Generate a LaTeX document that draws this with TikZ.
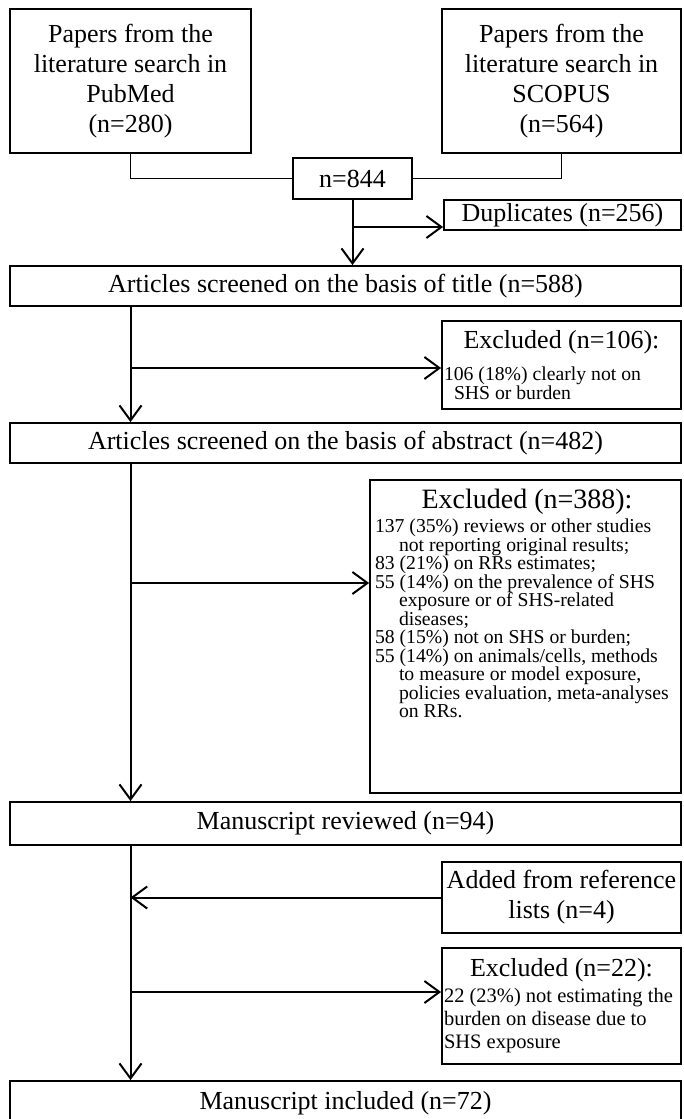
\documentclass[tikz,border=0pt]{standalone}
\usepackage{fontspec}
\setmainfont{Liberation Serif}
\usepackage{tikz}
\usetikzlibrary{arrows.meta}
\setlength{\parindent}{0pt}
\newcommand{\bigsz}{\fontsize{26}{30}\selectfont}
\newcommand{\headsz}{\fontsize{28}{30}\selectfont}
\newcommand{\listsz}{\fontsize{19.7}{18.5}\selectfont}
\newcommand{\notesz}{\fontsize{20.5}{23}\selectfont}
\newcommand{\ind}{\hspace*{24pt}}
\newcommand{\midline}[1]{\makebox[\hsize][c]{#1}}
\tikzstyle{source} = [draw, line width=1.8pt, minimum width=241pt, minimum height=144pt, inner sep=2pt, text width=235pt, align=flush center, font=\bigsz]
\tikzstyle{stage} = [draw, line width=1.8pt, minimum width=671pt, minimum height=40pt, inner sep=2pt, font=\bigsz]
\tikzstyle{side} = [draw, line width=1.8pt, minimum width=239pt, inner sep=2pt, text width=235pt, font=\bigsz]
\tikzstyle{flow} = [line width=2pt, -{Straight Barb[length=15pt,width=22pt]}]
\tikzstyle{merge} = [line width=1.3pt]

\begin{document}
\begin{tikzpicture}[x=1pt,y=-1pt]
			\useasboundingbox (0,0) rectangle (683,1119);
			\node[source] (pubmed) at (130.5,81) {Papers from the\\literature search in\\PubMed\\(n=280)};
			\node[source, minimum width=239pt] (scopus) at (561.5,81) {Papers from the\\literature search in\\SCOPUS\\(n=564)};
			\node[draw, line width=1.8pt, minimum width=119pt, minimum height=41pt, font=\bigsz] (total) at (352.5,178.5) {n=844};
			\node[draw, line width=1.8pt, minimum width=237pt, minimum height=30pt, inner sep=2pt, font=\bigsz] (dupl) at (562.5,215) {Duplicates (n=256)};
			\node[stage] (title) at (345.5,286) {Articles screened on the basis of title (n=588)};
			\node[side, minimum height=88pt, align=flush left] (excl1) at (561.5,365) {\midline{Excluded (n=106):}\\[12pt]\listsz 106 (18\%) clearly not on\\\hspace*{10pt}SHS or burden\par};
			\node[stage] (abstract) at (345.5,443) {Articles screened on the basis of abstract (n=482)};
			\node[draw, line width=1.8pt, minimum width=311pt, minimum height=313pt] (excl2) at (525.5,636.5) {};
			\node[anchor=north, text width=304pt, align=flush left, inner sep=0pt] (excl2list) at (527,489) {\midline{\headsz Excluded (n=388):}\\[3.5pt]\listsz
				137 (35\%) reviews or other studies\\\ind not reporting original results;\\
				83 (21\%) on RRs estimates;\\
				55 (14\%) on the prevalence of SHS\\\ind exposure or of SHS-related\\\ind diseases;\\
				58 (15\%) not on SHS or burden;\\
				55 (14\%) on animals/cells, methods\\\ind to measure or model exposure,\\\ind policies evaluation, meta-analyses\\\ind on RRs.\par};
			\node[stage, minimum height=43pt] (reviewed) at (345.5,823.5) {Manuscript reviewed (n=94)};
			\node[side, minimum height=71pt, align=flush center] (added) at (561.5,897.5) {Added from reference\\lists (n=4)};
			\node[side, minimum height=116pt, align=flush left] (excl3) at (561.5,1006) {\midline{Excluded (n=22):}\\[3pt]\notesz 22 (23\%) not estimating the\\burden on disease due to\\SHS exposure\par};
			\node[stage, minimum height=44pt] (included) at (345.5,1103) {Manuscript included (n=72)};
			% merging the two searches
			\draw[merge] (pubmed.south) |- (total.west);
			\draw[merge] (scopus.south) |- (total.east);
			\draw[flow] (total.south) -- (total.south |- title.north);
			\coordinate (dsplit) at (352.5,227);
			\draw[flow] (dsplit) -- (dsplit -| dupl.west);
			% main column
			\draw[flow] (title.south -| pubmed.south) -- (abstract.north -| pubmed.south);
			\coordinate (xsplit1) at (130.5,368);
			\draw[flow] (xsplit1) -- (xsplit1 -| excl1.west);
			\draw[flow] (abstract.south -| pubmed.south) -- (reviewed.north -| pubmed.south);
			\coordinate (xsplit2) at (130.5,583);
			\draw[flow] (xsplit2) -- (xsplit2 -| excl2.west);
			\draw[flow] (reviewed.south -| pubmed.south) -- (included.north -| pubmed.south);
			\draw[flow] (added.west) -- (added.west -| pubmed.south);
			\coordinate (xsplit3) at (130.5,992);
			\draw[flow] (xsplit3) -- (xsplit3 -| excl3.west);
		\end{tikzpicture}
\end{document}
